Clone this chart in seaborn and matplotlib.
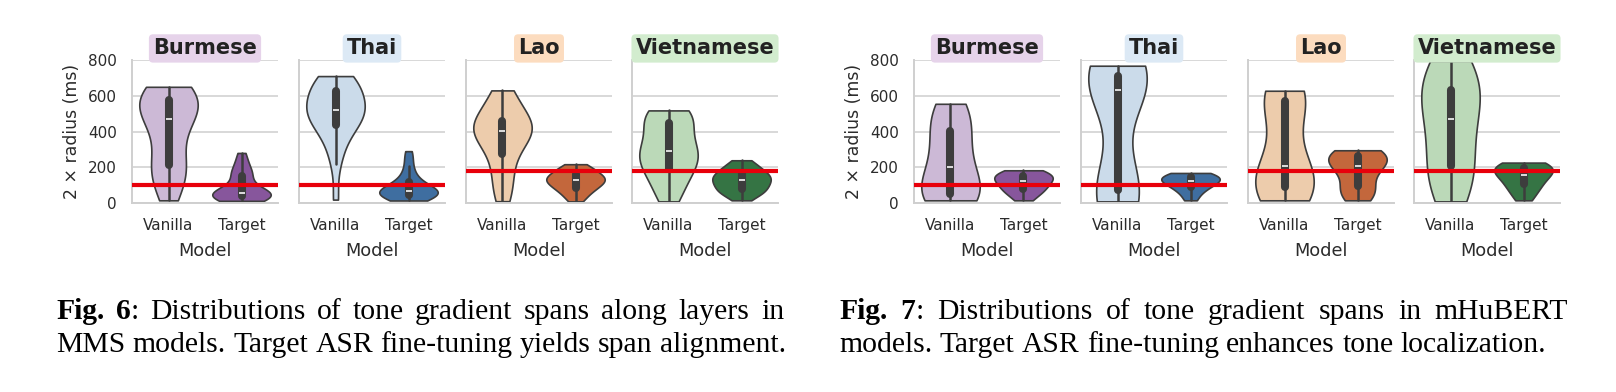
import matplotlib
matplotlib.use("Agg")
import matplotlib.pyplot as plt
import pandas as pd
import seaborn as sns

# ---------------------------------------------------------------- data
languages = ["Burmese", "Thai", "Lao", "Vietnamese"]
models = ["Vanilla", "Target"]
tone_span_ms = [100, 100, 180, 180]          # reference span per language

# MMS: 2 x radius (ms) per layer
mms_burmese_vanilla = [15, 60, 110, 150, 185, 205, 215, 260, 320, 380, 430, 460,
                       475, 500, 520, 535, 550, 570, 590, 605, 620, 635, 645, 650]
mms_burmese_target = [12, 18, 24, 28, 32, 35, 40, 45, 48, 51, 53, 55,
                      57, 62, 70, 85, 120, 148, 158, 168, 185, 210, 245, 280]
mms_thai_vanilla = [19, 220, 290, 350, 395, 425, 440, 460, 480, 495, 505, 515,
                    525, 540, 555, 575, 600, 625, 640, 660, 675, 690, 700, 710]
mms_thai_target = [14, 20, 26, 32, 38, 42, 48, 54, 58, 62, 65, 67,
                   69, 72, 78, 88, 100, 112, 125, 145, 170, 205, 250, 290]
mms_lao_vanilla = [10, 52, 100, 150, 200, 250, 285, 320, 350, 370, 385, 395,
                   408, 420, 430, 440, 448, 455, 480, 510, 545, 580, 610, 630]
mms_lao_target = [9, 25, 45, 60, 72, 80, 88, 96, 105, 112, 120, 125,
                  129, 135, 140, 145, 150, 158, 168, 176, 185, 195, 207, 217]
mms_vietnamese_vanilla = [9, 40, 80, 120, 155, 180, 195, 215, 235, 255, 270, 285,
                          300, 315, 335, 360, 400, 440, 465, 480, 492, 503, 512, 518]
mms_vietnamese_target = [15, 35, 50, 60, 66, 72, 80, 90, 100, 110, 118, 124,
                         130, 138, 145, 152, 158, 165, 175, 185, 195, 210, 225, 239]

# mHuBERT: 2 x radius (ms) per layer
hub_burmese_vanilla = [15, 25, 40, 55, 90, 170, 235, 300, 390, 450, 510, 555]
hub_burmese_target = [15, 50, 68, 80, 100, 115, 127, 140, 150, 160, 172, 183]
hub_thai_vanilla = [9, 30, 55, 80, 110, 610, 655, 690, 705, 720, 745, 768]
hub_thai_target = [15, 55, 75, 95, 108, 117, 125, 135, 145, 152, 160, 168]
hub_lao_vanilla = [15, 40, 65, 95, 140, 190, 225, 400, 565, 595, 612, 628]
hub_lao_target = [15, 50, 75, 100, 170, 200, 215, 240, 260, 270, 283, 295]
hub_vietnamese_vanilla = [9, 90, 170, 220, 330, 430, 508, 580, 615, 690, 750, 794]
hub_vietnamese_target = [15, 60, 85, 110, 135, 150, 168, 185, 195, 205, 215, 226]

vanilla_colors = ["#cdb4db", "#c6dbef", "#f8cca1", "#b7dfb2"]
target_colors = ["#8c4aa8", "#2f6db0", "#d95f26", "#2a7f3f"]
title_colors = ["#e6d3ea", "#dce9f5", "#fcdcbf", "#d2ecce"]

mms_sets = [(mms_burmese_vanilla, mms_burmese_target),
            (mms_thai_vanilla, mms_thai_target),
            (mms_lao_vanilla, mms_lao_target),
            (mms_vietnamese_vanilla, mms_vietnamese_target)]
hub_sets = [(hub_burmese_vanilla, hub_burmese_target),
            (hub_thai_vanilla, hub_thai_target),
            (hub_lao_vanilla, hub_lao_target),
            (hub_vietnamese_vanilla, hub_vietnamese_target)]

# ---------------------------------------------------------------- style
sns.set_theme(style="whitegrid")
plt.rcParams["font.family"] = ["DejaVu Sans"]
TEXT = "#2b2b2b"
W, H = 1616, 392
fig = plt.figure(figsize=(W / 100, H / 100), dpi=100)

panel_left = [132, 299, 466, 632, 914, 1081, 1248, 1414]
panel_w, ax_top, ax_bottom = 146, 60, 203


def draw_panel(ax, lang_i, vanilla, target, first):
    df = pd.DataFrame({
        "Model": [models[0]] * len(vanilla) + [models[1]] * len(target),
        "span": list(vanilla) + list(target),
    })
    sns.violinplot(
        data=df, x="Model", y="span", hue="Model", order=models, hue_order=models,
        palette=[vanilla_colors[lang_i], target_colors[lang_i]], legend=False,
        cut=0, density_norm="width", width=0.8, inner="box",
        linewidth=1.2, linecolor="#3d3d3d",
        inner_kws=dict(box_width=5.8, whis_width=1.8, solid_capstyle="round"),
        ax=ax,
    )
    ax.axhline(tone_span_ms[lang_i], color="#e8000b", lw=3, zorder=10)
    ax.set_xlim(-0.5, 1.5)
    ax.set_ylim(0, 800)
    ax.set_yticks([0, 200, 400, 600, 800])
    ax.yaxis.grid(True, color="#d2d2d2", lw=1.2)
    ax.xaxis.grid(False)
    for side in ("top", "right"):
        ax.spines[side].set_visible(False)
    for side in ("left", "bottom"):
        ax.spines[side].set_color("#cfcfcf")
        ax.spines[side].set_linewidth(1.4)
    ax.tick_params(axis="both", length=0, labelsize=11, labelcolor=TEXT, pad=11)
    ax.set_xlabel("Model", fontsize=12.8, color=TEXT, labelpad=6)
    if first:
        ax.set_ylabel("2 × radius (ms)", fontsize=12.4, color=TEXT, labelpad=5)
    else:
        ax.set_ylabel("")
        ax.tick_params(labelleft=False)
    ax.set_title(languages[lang_i], fontsize=15, fontweight="bold", color="#222222",
                 pad=4, bbox=dict(boxstyle="round,pad=0.2", fc=title_colors[lang_i],
                                  ec="none"))


for k, (left, sets) in enumerate(zip(panel_left, mms_sets + hub_sets)):
    ax = fig.add_axes([left / W, 1 - ax_bottom / H, panel_w / W,
                       (ax_bottom - ax_top) / H])
    draw_panel(ax, k % 4, sets[0], sets[1], k % 4 == 0)

# ---------------------------------------------------------------- captions
renderer = fig.canvas.get_renderer()
SERIF = "Liberation Serif"


def text_width(s, size, weight="normal"):
    t = fig.text(0, 0, s, fontsize=size, fontweight=weight, family=SERIF)
    w = t.get_window_extent(renderer).width
    t.remove()
    return w


line_ref = "MMS models. Target ASR fine-tuning yields span alignment."
cap_size = 20 * 728 / text_width(line_ref, 20)
space_w = text_width("a a", cap_size) - text_width("aa", cap_size)


def draw_line(words, x0, x1, y, justify):
    widths = [sum(text_width(s, cap_size, wt) for s, wt in word) for word in words]
    if justify and len(words) > 1:
        gap = (x1 - x0 - sum(widths)) / (len(words) - 1)
    else:
        gap = space_w
    x = x0
    for word, w in zip(words, widths):
        xx = x
        for s, wt in word:
            fig.text(xx / W, 1 - y / H, s, fontsize=cap_size, fontweight=wt,
                     family=SERIF, color="black", va="baseline", ha="left")
            xx += text_width(s, cap_size, wt)
        x += w + gap


def words_of(s):
    return [[(w, "normal")] for w in s.split()]


captions = [
    (56, 784, "6", "Distributions of tone gradient spans along layers in",
     "MMS models. Target ASR fine-tuning yields span alignment."),
    (839, 1568, "7", "Distributions of tone gradient spans in mHuBERT",
     "models. Target ASR fine-tuning enhances tone localization."),
]
for x0, x1, num, first, second in captions:
    line1 = [[("Fig.", "bold")], [(num, "bold"), (":", "normal")]] + words_of(first)
    draw_line(line1, x0, x1, 319, True)
    draw_line(words_of(second), x0, x1, 352, False)

fig.savefig("out.png", dpi=100)
